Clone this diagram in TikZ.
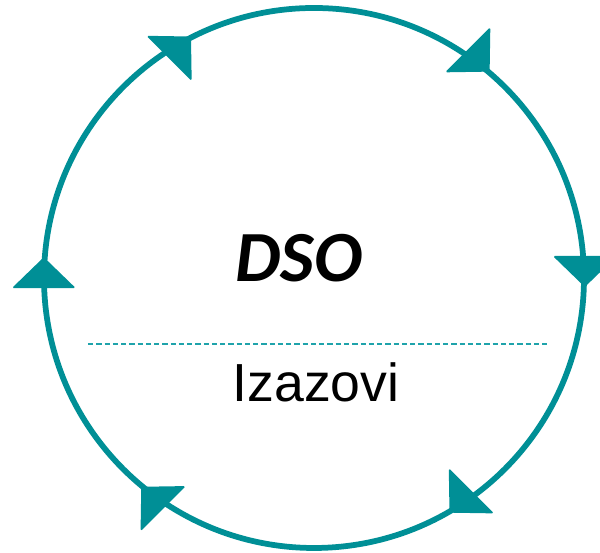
\documentclass[tikz,border=0pt]{standalone}
\usepackage{fontspec}
\setmainfont{Liberation Sans}
\newfontfamily\dsofont{Carlito}
\definecolor{ringteal}{HTML}{008F96}
\definecolor{dashteal}{HTML}{1FA3AB}
\begin{document}
\begin{tikzpicture}[x=0.02cm,y=0.02cm,
    ring/.style={draw=ringteal,line width=0.115cm},
    arrowhead/.style={fill=ringteal,rounded corners=1pt}]
  \useasboundingbox (0,0) rectangle (600,553);
  \begin{scope}[shift={(314,275)}]
    \draw[ring] (0,0) circle (270);
%    arrow heads, clockwise
    \foreach \pos/\dir in {175.6/90, 117/45, 49.6/-45, -1.9/-90, -60/-135, -129.6/135}
      \fill[arrowhead,shift={(\pos:271)},rotate=\dir-90] (0,0) -- (-32,-31) -- (32,-31) -- cycle;
  \end{scope}
  \node[font=\dsofont\bfseries\itshape\fontsize{41}{48}\selectfont] (dso) at (299,295) {DSO};
  \draw[dashteal,line width=0.6pt,dash pattern=on 3pt off 1.7pt] (88,209) -- (548,209);
  \node[font=\fontsize{30.5}{36}\selectfont] (izazovi) at (316,171) {Izazovi};
\end{tikzpicture}
\end{document}
